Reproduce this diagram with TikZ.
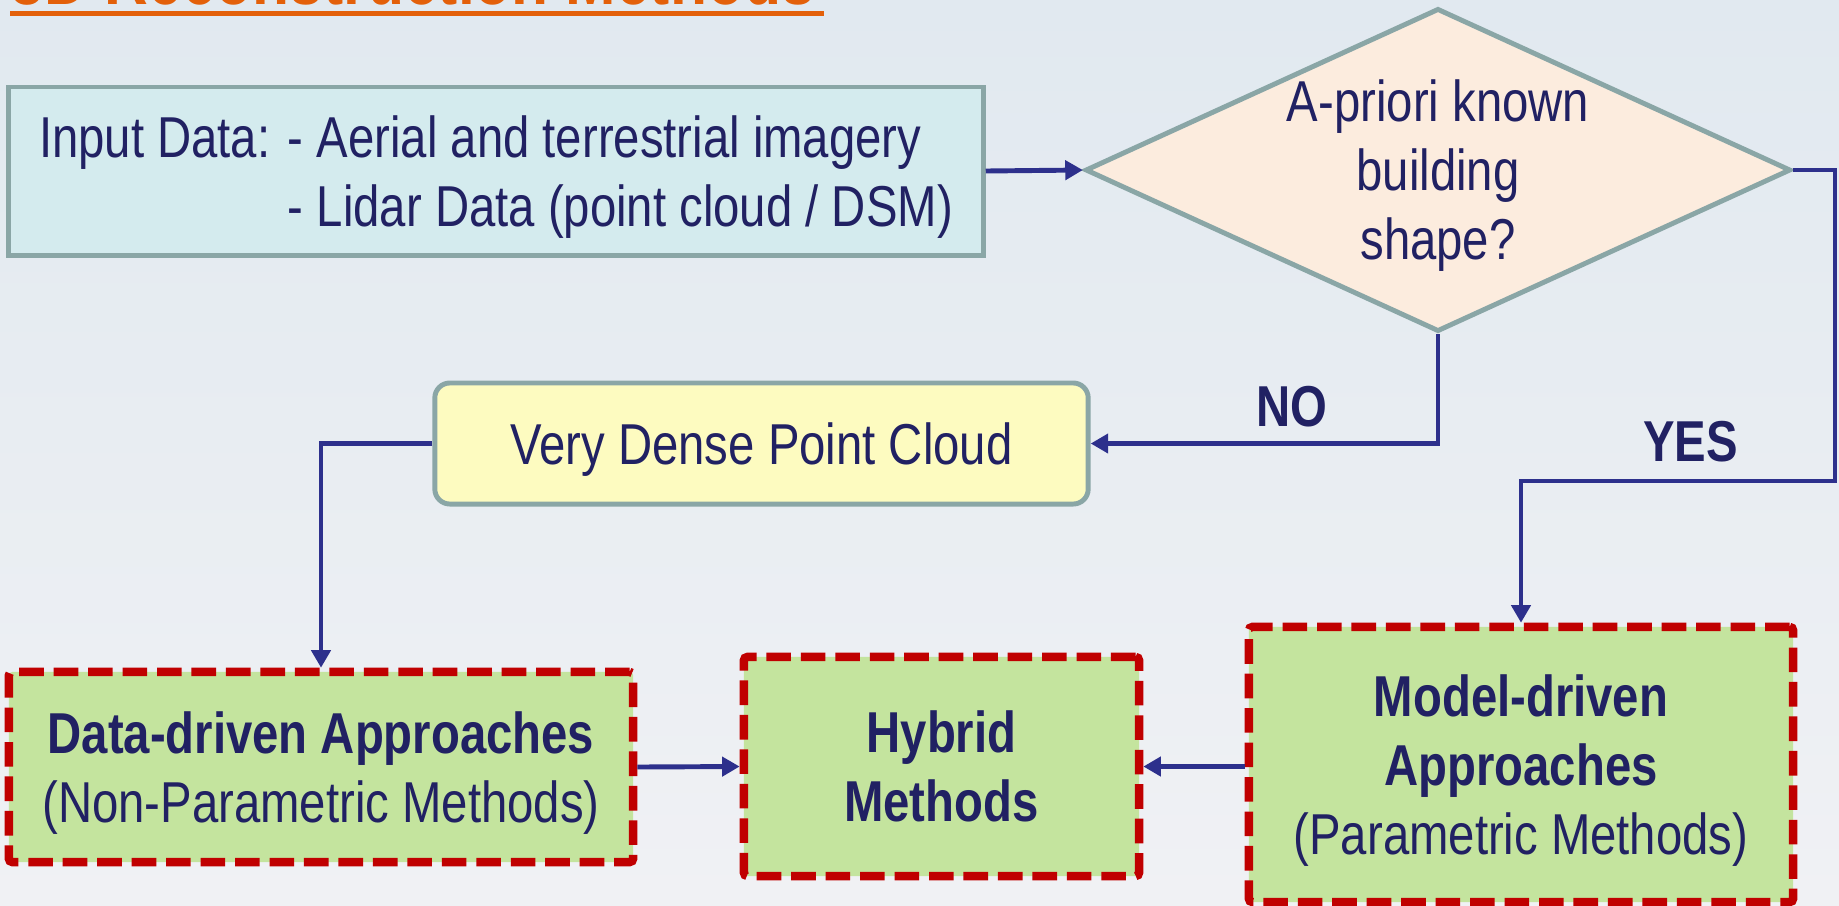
\documentclass[tikz,border=0pt]{standalone}
\usepackage{fontspec}
\setmainfont{Liberation Sans}[FakeStretch=0.82]
\usetikzlibrary{shapes.geometric,arrows.meta}

\definecolor{navytext}{RGB}{33,33,99}
\definecolor{arrowblue}{RGB}{45,48,140}
\definecolor{boxgray}{RGB}{138,166,166}
\definecolor{inputfill}{RGB}{212,235,238}
\definecolor{askfill}{RGB}{252,236,222}
\definecolor{densefill}{RGB}{253,251,192}
\definecolor{approachfill}{RGB}{196,228,158}
\definecolor{dashred}{RGB}{192,0,0}
\definecolor{titleorange}{RGB}{227,96,10}
\definecolor{bgtop}{RGB}{225,233,240}
\definecolor{bgbottom}{RGB}{240,241,244}

% struts so that each text block is centred on its capitals
\newcommand{\captop}{\rule{0pt}{16.7pt}}
\newcommand{\capbottom}{\rule[-5pt]{0pt}{0pt}}

\tikzset{
  body/.style={font=\fontsize{16.4}{19.6}\selectfont, text=navytext, inner sep=0pt, align=center},
  grayframe/.style={body, draw=boxgray, line width=1.4pt},
  approach/.style={body, draw=dashred, line width=2.4pt, dash pattern=on 7pt off 2.8pt,
    fill=approachfill, rounded corners=1pt},
  flow/.style={draw=arrowblue, line width=1.4pt, -{Triangle[length=5pt,width=5.4pt]}},
  answer/.style={font=\fontsize{16.4}{19.6}\selectfont\bfseries, text=navytext, inner sep=0pt}
}

\begin{document}
\begin{tikzpicture}[x=0.01cm, y=-0.01cm]
% Slide background
\useasboundingbox (0,0) rectangle (1839,905);
\clip (0,0) rectangle (1839,905);
\shade[top color=bgtop, bottom color=bgbottom] (0,0) rectangle (1839,905);

% Title (cut off by the top edge)
\node[anchor=base west, inner sep=0pt, text=titleorange,
  font=\fontsize{21}{25}\selectfont\bfseries] (title) at (10,4) {3D Reconstruction Methods};
\draw[titleorange, line width=1.4pt] (10,13.5) -- (824,13.5);

% Input and decision
\node[grayframe, fill=inputfill, align=left, minimum width=9.74cm, minimum height=1.68cm]
  (input) at (496,171)
  {\captop Input Data: - Aerial and terrestrial imagery\\\phantom{Input Data: }- Lidar Data (point cloud / DSM)\capbottom};
\node[grayframe, diamond, aspect=2.18, inner sep=-0.3cm, fill=askfill,
  minimum width=7.05cm, minimum height=3.23cm]
  (ask) at (1438,170) {\captop A-priori known\\building\\shape?\capbottom};

% Dense point cloud
\node[grayframe, fill=densefill, rounded corners=0.15cm, minimum width=6.53cm, minimum height=1.21cm]
  (dense) at (761.5,443.5) {\captop Very Dense Point Cloud\capbottom};

% Approaches
\node[approach, minimum width=6.24cm, minimum height=1.9cm] (data) at (321,767)
  {\captop\textbf{Data-driven Approaches}\\(Non-Parametric Methods)\capbottom};
\node[approach, minimum width=3.95cm, minimum height=2.19cm] (hybrid) at (941.5,766.5)
  {\captop\textbf{Hybrid}\\\textbf{Methods}\capbottom};
\node[approach, minimum width=5.44cm, minimum height=2.75cm] (model) at (1521,764.5)
  {\captop\textbf{Model-driven}\\\textbf{Approaches}\\(Parametric Methods)\capbottom};

% Connectors
\coordinate (yesbend) at (1835,481);
\draw[flow] (input.east) -- (ask.west);
\draw[flow] (ask.south) |- (dense.east) node[answer, pos=0.71, above=0.14cm] (no) {NO};
\draw[flow] (ask.east) -| (yesbend) -| (model.north) node[answer, pos=0.23, above=0.16cm] (yes) {YES};
\draw[flow] (dense.west) -| (data.north);
\draw[flow] (data.east) -- (hybrid.west);
\draw[flow] (model.west |- hybrid.east) -- (hybrid.east);
\end{tikzpicture}
\end{document}
